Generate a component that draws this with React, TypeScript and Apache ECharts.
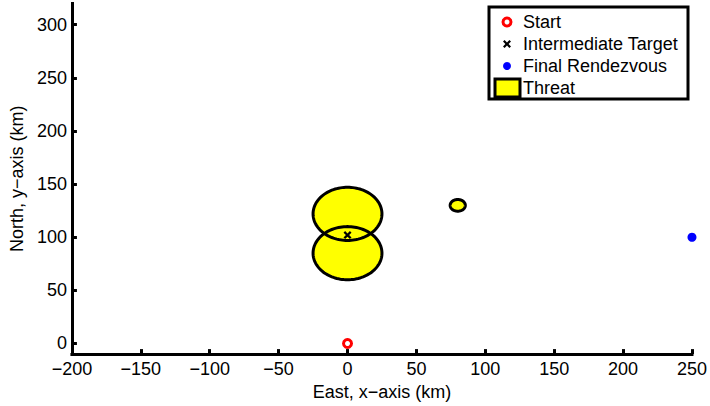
import React, { useEffect, useRef } from "react";
import * as echarts from "echarts";

// Mission geometry (km)
const START = [0, 0];
const INTERMEDIATE_TARGET = [0, 102];
const FINAL_RENDEZVOUS = [250, 100];

// Threat zones: centre east, centre north, radius
const THREAT_X = [0, 0, 80];
const THREAT_Y = [122, 85, 130];
const THREAT_R = [25, 25, 5.5];

const X_MIN = -200;
const X_MAX = 250;
const Y_MIN = -10;
const Y_MAX = 320;
const Y_TICKS = [0, 50, 100, 150, 200, 250, 300];

const LEGEND_LABELS = ["Start", "Intermediate Target", "Final Rendezvous", "Threat"];

const FONT = '"Liberation Sans", Arial, Helvetica, sans-serif';
const minus = (v: number | string) => String(v).replace("-", "\u2212");

const threatData = THREAT_X.map((x, i) => [x, THREAT_Y[i], THREAT_R[i]]);

const circlePoints = (api: any) => {
  const cx = api.value(0);
  const cy = api.value(1);
  const r = api.value(2);
  const pts: number[][] = [];
  const n = 120;
  for (let i = 0; i < n; i++) {
    const a = (2 * Math.PI * i) / n;
    pts.push(api.coord([cx + r * Math.cos(a), cy + r * Math.sin(a)]));
  }
  return pts;
};

const X_PATH = "path://M0,2 L2,0 L5,3 L8,0 L10,2 L7,5 L10,8 L8,10 L5,7 L2,10 L0,8 L3,5 Z";

export default function App() {
  const ref = useRef<HTMLDivElement>(null);

  useEffect(() => {
    if (!ref.current) return;
    const chart = echarts.init(ref.current, null, { renderer: "svg" });

    const axisLine = { show: true, onZero: false, lineStyle: { color: "#000", width: 3, cap: "square" } };
    const axisTick = { show: true, inside: true, length: 5, lineStyle: { color: "#000", width: 3 } };
    const nameTextStyle = { color: "#000", fontSize: 18, fontFamily: FONT };

    const lx = 507; // legend icon centre
    const tx = 523; // legend text start
    const rows = [22, 44, 66, 88];

    chart.setOption({
      animation: false,
      backgroundColor: "#fff",
      grid: { left: 67.5, right: 17.3, top: 3.5, bottom: 49, containLabel: false },
      xAxis: {
        type: "value",
        min: X_MIN,
        max: X_MAX,
        interval: 50,
        name: "East, x\u2212axis (km)",
        nameLocation: "middle",
        nameGap: 24,
        nameTextStyle,
        axisLine,
        axisTick,
        splitLine: { show: false },
        axisLabel: {
          color: "#000",
          fontSize: 18,
          fontFamily: FONT,
          margin: 6,
          formatter: (v: number) => minus(v),
        },
      },
      yAxis: {
        type: "value",
        min: Y_MIN,
        max: Y_MAX,
        name: "North, y\u2212axis (km)",
        nameLocation: "middle",
        nameGap: 40,
        nameTextStyle,
        axisLine,
        axisTick: { ...axisTick, customValues: Y_TICKS },
        splitLine: { show: false },
        axisLabel: {
          color: "#000",
          fontSize: 18,
          fontFamily: FONT,
          margin: 5,
          customValues: Y_TICKS,
          formatter: (v: number) => minus(v),
        },
      },
      series: [
        {
          type: "custom",
          name: "Threat fill",
          data: threatData,
          encode: { x: 0, y: 1 },
          clip: false,
          renderItem: (_p: any, api: any) => ({
            type: "polygon",
            shape: { points: circlePoints(api) },
            style: { fill: "#ffff00", stroke: "none" },
          }),
          z: 1,
        },
        {
          type: "custom",
          name: "Threat edge",
          data: threatData,
          encode: { x: 0, y: 1 },
          clip: false,
          renderItem: (_p: any, api: any) => ({
            type: "polygon",
            shape: { points: circlePoints(api) },
            style: { fill: "none", stroke: "#000", lineWidth: 3 },
          }),
          z: 2,
        },
        {
          type: "scatter",
          name: "Start",
          data: [START],
          symbol: "circle",
          symbolSize: 8,
          clip: false,
          itemStyle: { color: "#fff", borderColor: "#ff0000", borderWidth: 3, opacity: 1 },
          z: 5,
        },
        {
          type: "scatter",
          name: "Intermediate Target",
          data: [INTERMEDIATE_TARGET],
          symbol: X_PATH,
          symbolSize: 8,
          clip: false,
          itemStyle: { color: "#000", opacity: 1 },
          z: 5,
        },
        {
          type: "scatter",
          name: "Final Rendezvous",
          data: [FINAL_RENDEZVOUS],
          symbol: "circle",
          symbolSize: 9,
          clip: false,
          itemStyle: { color: "#0000ff", opacity: 1 },
          z: 5,
        },
      ],
      graphic: [
        {
          type: "group",
          z: 100,
          children: [
            {
              type: "rect",
              shape: { x: 489, y: 7, width: 199, height: 92 },
              style: { fill: "#fff", stroke: "#000", lineWidth: 3 },
            },
            {
              type: "circle",
              shape: { cx: lx, cy: rows[0], r: 4 },
              style: { fill: "#fff", stroke: "#ff0000", lineWidth: 3 },
            },
            {
              type: "polygon",
              shape: {
                points: [
                  [-4, -2.4], [-2.4, -4], [0, -1.6], [2.4, -4], [4, -2.4], [1.6, 0],
                  [4, 2.4], [2.4, 4], [0, 1.6], [-2.4, 4], [-4, 2.4], [-1.6, 0],
                ].map(([a, b]) => [lx + a, rows[1] + b]),
              },
              style: { fill: "#000" },
            },
            {
              type: "circle",
              shape: { cx: lx, cy: rows[2], r: 4 },
              style: { fill: "#0000ff" },
            },
            {
              type: "rect",
              shape: { x: 495, y: 79, width: 25, height: 18 },
              style: { fill: "#ffff00", stroke: "#000", lineWidth: 3 },
            },
            ...LEGEND_LABELS.map((t, i) => ({
              type: "text",
              x: tx,
              y: rows[i],
              style: {
                text: t,
                fill: "#000",
                fontSize: 18,
                fontFamily: FONT,
                verticalAlign: "middle",
                align: "left",
              },
            })),
          ],
        },
      ],
    });

    return () => chart.dispose();
  }, []);

  return (
    <div
      ref={ref}
      style={{ position: "fixed", left: 0, top: 0, width: 710, height: 406 }}
    />
  );
}
